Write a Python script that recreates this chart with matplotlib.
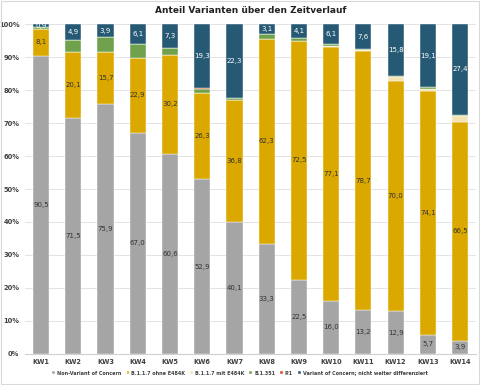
import matplotlib
matplotlib.use("Agg")
import matplotlib.pyplot as plt
import numpy as np

weeks = ["KW1", "KW2", "KW3", "KW4", "KW5", "KW6", "KW7",
         "KW8", "KW9", "KW10", "KW11", "KW12", "KW13", "KW14"]

non_voc = [90.5, 71.5, 75.9, 67.0, 60.6, 52.9, 40.1, 33.3, 22.5, 16.0, 13.2, 12.9, 5.7, 3.9]
b117_ohne = [8.1, 20.1, 15.7, 22.9, 30.2, 26.3, 36.8, 62.3, 72.5, 77.1, 78.7, 70.0, 74.1, 66.5]
b117_mit = [0.0, 0.0, 0.0, 0.0, 0.0, 0.0, 0.0, 0.0, 0.0, 0.2, 0.3, 1.2, 0.6, 1.8]
b1351 = [0.5, 3.5, 4.5, 4.0, 1.9, 1.3, 0.6, 1.3, 0.9, 0.6, 0.2, 0.1, 0.5, 0.3]
p1 = [0.0, 0.0, 0.0, 0.0, 0.0, 0.2, 0.2, 0.0, 0.0, 0.0, 0.0, 0.0, 0.0, 0.1]
voc_nd = [0.9, 4.9, 3.9, 6.1, 7.3, 19.3, 22.3, 3.1, 4.1, 6.1, 7.6, 15.8, 19.1, 27.4]

series = [
    ("Non-Variant of Concern", non_voc, "#A5A5A5", "#333333", True),
    ("B.1.1.7 ohne E484K", b117_ohne, "#DBA800", "#333333", True),
    ("B.1.1.7 mit E484K", b117_mit, "#F3E3B3", None, False),
    ("B.1.351", b1351, "#70A24E", None, False),
    ("P.1", p1, "#E0452A", None, False),
    ("Variant of Concern; nicht weiter differenziert", voc_nd, "#265A74", "white", True),
]

fig = plt.figure(figsize=(4.8, 3.85), dpi=100)
ax = fig.add_axes([0.052, 0.081, 0.940, 0.856])

x = np.arange(len(weeks))
bottom = np.zeros(len(weeks))
for name, vals, color, txtcolor, labelled in series:
    vals = np.array(vals)
    ax.bar(x, vals, width=0.5, bottom=bottom, color=color, label=name,
           edgecolor="white", linewidth=0.3, zorder=2)
    if labelled:
        for xi, b, v in zip(x, bottom, vals):
            if v > 0:
                ax.text(xi, b + v / 2, f"{v:.1f}".replace(".", ","),
                        ha="center", va="center", fontsize=5, color=txtcolor, zorder=3)
    bottom += vals

ax.set_xlim(-0.5, len(weeks) - 0.5)
ax.set_ylim(0, 100)
ax.set_yticks(np.arange(0, 101, 10))
ax.set_yticklabels([f"{v}%" for v in range(0, 101, 10)], fontsize=4.8, fontweight="bold", color="#404040")
ax.set_xticks(x)
ax.set_xticklabels(weeks, fontsize=4.8, fontweight="bold", color="#404040")
ax.tick_params(length=0, pad=4)
ax.yaxis.grid(True, color="#E3E3E3", linewidth=0.7, zorder=0)
ax.set_axisbelow(True)
for s in ["top", "right", "left"]:
    ax.spines[s].set_visible(False)
ax.spines["bottom"].set_color("#D0D0D0")

ax.set_title("Anteil Varianten über den Zeitverlauf", fontsize=6.5, fontweight="bold",
             color="#222222", pad=8)

leg = fig.legend(loc="center", bbox_to_anchor=(0.5, 0.031), ncol=6, fontsize=3.5,
                 frameon=False, handlelength=0.6, handleheight=0.6, handletextpad=0.4,
                 columnspacing=1.0)
for t in leg.get_texts():
    t.set_fontweight("bold")
    t.set_color("#404040")

fig.patches.append(plt.Rectangle((0.002, 0.002), 0.996, 0.996, transform=fig.transFigure,
                                 fill=False, edgecolor="#D9D9D9", linewidth=0.8))

fig.savefig("out.png", dpi=100)
